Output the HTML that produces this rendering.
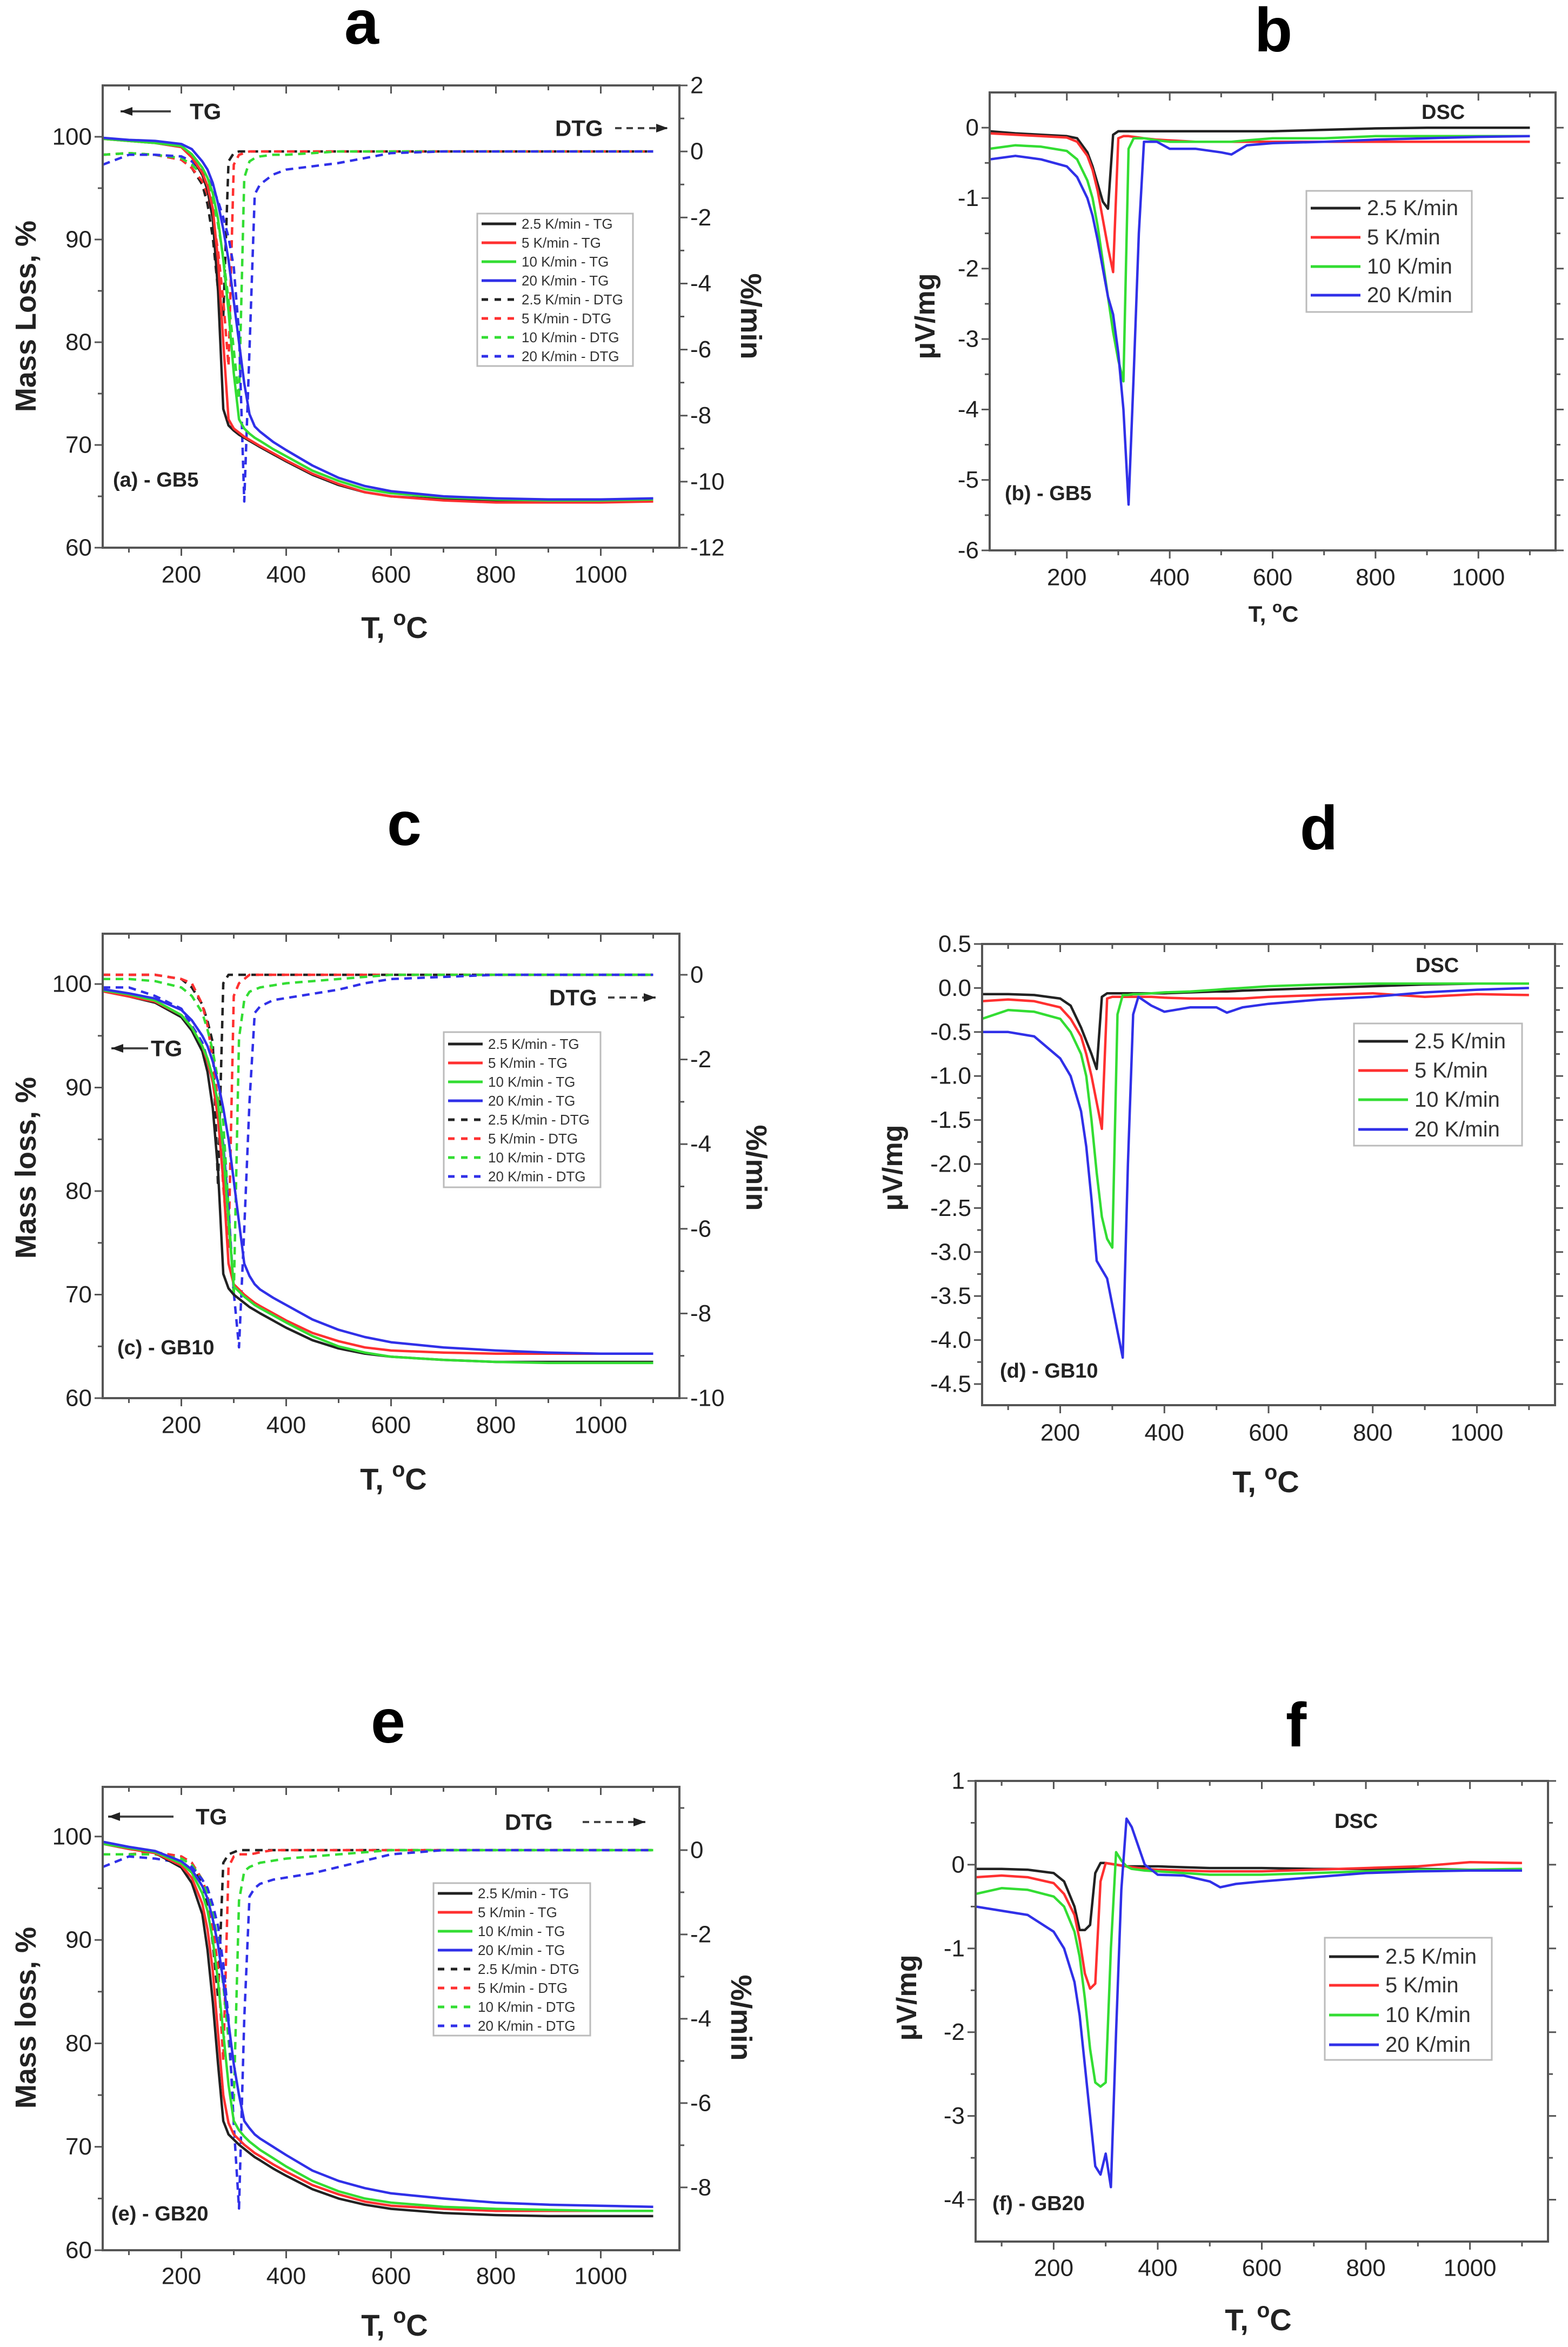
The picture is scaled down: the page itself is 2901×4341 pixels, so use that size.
<!DOCTYPE html>
<html><head><meta charset="utf-8"><style>
html,body{margin:0;padding:0;background:#fff;}
svg{display:block;font-family:"Liberation Sans",Arial,sans-serif;}
</style></head><body>
<svg id="fig" xmlns="http://www.w3.org/2000/svg" width="2901" height="4341" viewBox="0 0 2901 4341">
<rect x="0" y="0" width="2901" height="4341" fill="#fff"/>
</svg>
<script>
// ---- data ----
const tgTemps=[50,100,150,200,220,240,250,260,270,280,290,300,310,320,330,340,350,375,400,450,500,550,600,700,800,900,1000,1100];
const dscTemps=[50,100,150,200,220,240,250,260,270,280,290,300,310,320,330,340,350,375,400,450,500,520,550,600,700,800,900,1000,1100];
const rateLabels=["2.5 K/min","5 K/min","10 K/min","20 K/min"];

const aTG25=[99.8,99.6,99.4,99.0,98.0,96.3,94.8,92.0,85.0,73.5,71.9,71.4,71.0,70.7,70.4,70.1,69.8,69.1,68.4,67.1,66.1,65.4,65.0,64.7,64.5,64.5,64.5,64.6];
const aTG5=[99.8,99.6,99.4,99.0,98.0,96.5,95.2,93.0,88.0,80.0,72.5,71.6,71.2,70.8,70.5,70.2,69.9,69.2,68.5,67.2,66.2,65.4,65.0,64.6,64.4,64.4,64.4,64.5];
const aTG10=[99.8,99.6,99.4,99.1,98.3,97.0,96.0,94.5,92.0,88.0,83.0,77.0,72.5,71.6,71.1,70.7,70.4,69.6,68.9,67.5,66.5,65.7,65.3,64.9,64.7,64.6,64.6,64.7];
const aTG20=[99.9,99.7,99.6,99.3,98.8,97.6,96.8,95.5,93.5,91.0,88.0,84.0,80.0,76.0,73.0,71.8,71.3,70.3,69.5,68.0,66.8,66.0,65.5,65.0,64.8,64.7,64.7,64.8];
const aDTG25=[-0.1,-0.05,-0.1,-0.25,-0.5,-1.0,-1.6,-2.6,-4.2,-5.0,-0.3,-0.05,0,0,0,0,0,0,0,0,0,0,0,0,0,0,0,0];
const aDTG5=[-0.1,-0.05,-0.1,-0.25,-0.5,-0.9,-1.3,-2.0,-3.0,-4.5,-6.5,-0.4,-0.1,-0.05,0,0,0,0,0,0,0,0,0,0,0,0,0,0];
const aDTG10=[-0.1,-0.05,-0.1,-0.2,-0.4,-0.7,-1.0,-1.5,-2.2,-3.2,-4.5,-6.0,-7.5,-0.8,-0.3,-0.2,-0.15,-0.1,-0.1,-0.05,0,0,0,0,0,0,0,0];
const aDTG20=[-0.4,-0.1,-0.1,-0.15,-0.3,-0.6,-0.8,-1.1,-1.5,-2.0,-2.6,-3.5,-5.5,-10.6,-6.0,-1.3,-1.0,-0.7,-0.55,-0.45,-0.35,-0.2,-0.05,0,0,0,0,0];

const bDSC25=[-0.05,-0.08,-0.1,-0.12,-0.15,-0.35,-0.55,-0.8,-1.05,-1.15,-0.1,-0.05,-0.05,-0.05,-0.05,-0.05,-0.05,-0.05,-0.05,-0.05,-0.05,-0.05,-0.05,-0.05,-0.03,-0.01,0,0,0];
const bDSC5=[-0.08,-0.1,-0.12,-0.14,-0.2,-0.4,-0.6,-0.9,-1.3,-1.7,-2.05,-0.15,-0.12,-0.12,-0.13,-0.14,-0.15,-0.17,-0.18,-0.2,-0.2,-0.2,-0.2,-0.2,-0.2,-0.2,-0.2,-0.2,-0.2];
const bDSC10=[-0.3,-0.25,-0.27,-0.33,-0.45,-0.75,-1.0,-1.4,-1.9,-2.4,-2.9,-3.3,-3.6,-0.3,-0.15,-0.15,-0.15,-0.18,-0.2,-0.2,-0.2,-0.2,-0.18,-0.15,-0.15,-0.12,-0.12,-0.12,-0.12];
const bDSC20=[-0.45,-0.4,-0.45,-0.55,-0.7,-1.0,-1.25,-1.6,-2.0,-2.4,-2.65,-3.2,-4.0,-5.35,-3.5,-1.5,-0.2,-0.2,-0.3,-0.3,-0.35,-0.38,-0.25,-0.22,-0.2,-0.17,-0.15,-0.13,-0.12];

const cTG25=[99.3,98.8,98.2,96.8,95.5,93.5,91.5,88.0,82.0,72.0,70.6,70.0,69.6,69.2,68.8,68.5,68.2,67.5,66.8,65.6,64.8,64.3,64.0,63.7,63.5,63.5,63.5,63.5];
const cTG5=[99.3,98.8,98.3,97.0,95.8,94.0,92.5,90.5,87.0,81.0,73.0,71.0,70.5,70.0,69.6,69.2,68.9,68.2,67.5,66.3,65.5,64.9,64.6,64.4,64.3,64.3,64.3,64.3];
const cTG10=[99.4,99.0,98.4,97.0,95.8,94.0,92.8,91.0,88.5,84.0,77.0,70.8,70.3,69.8,69.4,69.0,68.7,68.0,67.3,66.0,65.0,64.4,64.0,63.7,63.5,63.4,63.4,63.4];
const cTG20=[99.5,99.1,98.6,97.5,96.5,95.0,94.0,92.5,90.5,88.0,85.0,81.0,77.0,73.0,71.8,71.0,70.5,69.7,69.0,67.6,66.6,65.9,65.4,64.9,64.6,64.4,64.3,64.3];
const cDTG25=[0,0,0,-0.1,-0.3,-0.7,-1.1,-1.6,-5.0,-0.2,0,0,0,0,0,0,0,0,0,0,0,0,0,0,0,0,0,0];
const cDTG5=[0,0,0,-0.1,-0.2,-0.7,-1.2,-2.0,-3.0,-5.0,-6.5,-0.5,-0.2,-0.1,0,0,0,0,0,0,0,0,0,0,0,0,0,0];
const cDTG10=[-0.1,-0.1,-0.15,-0.3,-0.5,-0.9,-1.3,-1.8,-2.5,-3.5,-5.5,-7.6,-1.5,-0.6,-0.4,-0.35,-0.3,-0.25,-0.2,-0.15,-0.1,-0.05,0,0,0,0,0,0];
const cDTG20=[-0.3,-0.3,-0.5,-0.8,-1.2,-1.6,-2.0,-2.5,-3.2,-4.0,-5.5,-7.5,-8.8,-6.0,-3.0,-0.9,-0.75,-0.6,-0.55,-0.45,-0.35,-0.2,-0.1,-0.05,0,0,0,0];

const dDSC25=[-0.07,-0.07,-0.08,-0.12,-0.2,-0.45,-0.6,-0.75,-0.92,-0.1,-0.06,-0.06,-0.06,-0.06,-0.06,-0.06,-0.06,-0.06,-0.06,-0.05,-0.04,-0.04,-0.03,-0.02,0,0.02,0.04,0.05,0.05];
const dDSC5=[-0.15,-0.13,-0.15,-0.22,-0.35,-0.55,-0.75,-1.0,-1.3,-1.6,-0.12,-0.1,-0.1,-0.1,-0.1,-0.1,-0.1,-0.1,-0.11,-0.12,-0.12,-0.12,-0.12,-0.1,-0.08,-0.06,-0.1,-0.07,-0.08];
const dDSC10=[-0.35,-0.25,-0.27,-0.35,-0.5,-0.75,-1.0,-1.5,-2.1,-2.6,-2.85,-2.95,-0.3,-0.08,-0.08,-0.07,-0.07,-0.06,-0.05,-0.04,-0.02,-0.01,0,0.02,0.04,0.05,0.05,0.05,0.05];
const dDSC20=[-0.5,-0.5,-0.55,-0.8,-1.0,-1.4,-1.8,-2.4,-3.1,-3.2,-3.3,-3.6,-3.9,-4.2,-2.0,-0.3,-0.1,-0.2,-0.27,-0.22,-0.22,-0.28,-0.22,-0.18,-0.13,-0.1,-0.05,-0.02,0];

const eTG25=[99.3,98.8,98.4,97.0,95.5,92.5,89.0,84.0,78.0,72.5,71.2,70.7,70.2,69.8,69.4,69.0,68.7,67.9,67.2,65.9,65.0,64.4,64.0,63.6,63.4,63.3,63.3,63.3];
const eTG5=[99.3,98.8,98.4,97.2,96.0,93.5,91.0,87.0,81.0,75.0,72.3,71.2,70.7,70.2,69.8,69.4,69.1,68.3,67.6,66.3,65.4,64.7,64.3,64.0,63.8,63.8,63.8,63.8];
const eTG10=[99.3,98.9,98.5,97.4,96.5,94.5,92.8,90.0,86.0,81.0,76.0,72.5,71.6,71.0,70.5,70.1,69.7,68.9,68.1,66.7,65.7,65.0,64.6,64.2,64.0,63.9,63.8,63.8];
const eTG20=[99.5,99.0,98.6,97.6,96.8,95.2,94.0,92.0,89.5,86.0,82.0,78.0,75.0,72.5,71.8,71.2,70.8,70.0,69.2,67.7,66.7,66.0,65.5,65.0,64.6,64.4,64.3,64.2];
const eDTG25=[-0.1,-0.1,-0.05,-0.15,-0.3,-0.8,-1.3,-2.2,-3.5,-0.3,-0.1,-0.05,0,0,0,0,0,0,0,0,0,0,0,0,0,0,0,0];
const eDTG5=[-0.1,-0.1,-0.05,-0.15,-0.3,-0.7,-1.1,-1.8,-2.8,-5.0,-0.4,-0.15,-0.1,-0.1,-0.1,-0.08,-0.05,0,0,0,0,0,0,0,0,0,0,0];
const eDTG10=[-0.1,-0.1,-0.1,-0.2,-0.35,-0.7,-1.0,-1.5,-2.2,-3.2,-4.5,-6.0,-1.2,-0.5,-0.4,-0.35,-0.3,-0.25,-0.2,-0.15,-0.1,-0.05,0,0,0,0,0,0];
const eDTG20=[-0.4,-0.15,-0.2,-0.3,-0.4,-0.7,-0.9,-1.3,-1.8,-2.7,-4.0,-6.5,-8.5,-4.0,-1.1,-0.9,-0.8,-0.7,-0.65,-0.55,-0.4,-0.25,-0.1,0,0,0,0,0];

const fDSC25=[-0.05,-0.05,-0.06,-0.1,-0.2,-0.5,-0.78,-0.78,-0.72,-0.1,0.02,0.02,0.01,0,-0.01,-0.02,-0.02,-0.02,-0.02,-0.03,-0.04,-0.04,-0.04,-0.04,-0.05,-0.05,-0.05,-0.06,-0.07];
const fDSC5=[-0.15,-0.13,-0.15,-0.22,-0.35,-0.6,-0.9,-1.3,-1.48,-1.42,-0.2,0.02,0.01,0,-0.01,-0.02,-0.03,-0.05,-0.06,-0.07,-0.08,-0.08,-0.08,-0.08,-0.06,-0.04,-0.02,0.03,0.02];
const fDSC10=[-0.35,-0.28,-0.3,-0.38,-0.5,-0.8,-1.1,-1.6,-2.2,-2.6,-2.65,-2.6,-1.0,0.15,0.05,-0.02,-0.05,-0.07,-0.08,-0.1,-0.12,-0.12,-0.12,-0.12,-0.1,-0.08,-0.06,-0.06,-0.05];
const fDSC20=[-0.5,-0.55,-0.6,-0.8,-1.0,-1.4,-1.8,-2.4,-3.0,-3.6,-3.7,-3.45,-3.85,-2.0,-0.3,0.55,0.45,0.0,-0.12,-0.13,-0.2,-0.27,-0.23,-0.2,-0.15,-0.1,-0.08,-0.07,-0.07];

const xTicks=[200,400,600,800,1000];
const colors=["#222222","#ff3030","#33dd33","#3030e8"];

// ---- drawing ----
const NS="http://www.w3.org/2000/svg";
const svg=document.getElementById('fig');
function mk(tag,attrs,parent){const e=document.createElementNS(NS,tag);for(const k in attrs)e.setAttribute(k,attrs[k]);(parent||svg).appendChild(e);return e;}
function txt(parent,x,y,s,size,opts){opts=opts||{};
  const t=mk('text',{x:x,y:y,'font-size':size,'font-weight':opts.bold?'bold':'normal','text-anchor':opts.anchor||'middle','dominant-baseline':'central',fill:opts.fill||'#222'},parent);
  if(opts.rot)t.setAttribute('transform','rotate('+opts.rot+' '+x+' '+y+')');
  t.textContent=s;return t;}
function tempTitle(parent,x,y,size,name){
  const t=mk('text',{x:x,y:y,'font-size':size,'font-weight':'bold','text-anchor':'middle','dominant-baseline':'central',fill:'#222'},parent);
  
  
  const a=mk('tspan',{},t);a.textContent='T, ';
  const o=mk('tspan',{'font-size':size*0.7,dy:-size*0.3},t);o.textContent='o';
  const c=mk('tspan',{dy:size*0.3},t);c.textContent='C';
}

function panel(cfg){
  const g=mk('g',{});
  
  
  const L=cfg.box[0],T=cfg.box[1],R=cfg.box[2],B=cfg.box[3];
  const sx=v=>L+(v-50)/(1150-50)*(R-L);
  const syL=v=>B-(v-cfg.yL[0])/(cfg.yL[1]-cfg.yL[0])*(B-T);
  const syR=cfg.yR?(v=>B-(v-cfg.yR[0])/(cfg.yR[1]-cfg.yR[0])*(B-T)):null;
  // title letter
  const ttl=txt(g,cfg.title[0],cfg.title[1],cfg.title[2],115,{bold:true,fill:'#000'});
  
  
  // series
  const clipId='clip-'+cfg.name;
  const cp=mk('clipPath',{id:clipId},g);mk('rect',{x:L,y:T,width:R-L,height:B-T},cp);
  const sg=mk('g',{'clip-path':'url(#'+clipId+')'},g);
  cfg.series.forEach(s=>{
    const sy=s.axis==='R'?syR:syL;
    let d='';s.temps.forEach((t,i)=>{d+=(i?'L':'M')+sx(t).toFixed(1)+' '+sy(s.vals[i]).toFixed(1);});
    const p=mk('path',{d:d,fill:'none',stroke:s.color,'stroke-width':4.5,'stroke-linejoin':'round','stroke-dasharray':s.dash?'14 10':'none'},sg);
    
    
  });
  // frame
  const fr=mk('rect',{x:L,y:T,width:R-L,height:B-T,fill:'none',stroke:'#555','stroke-width':4},g);
  
  
  // x ticks
  for(let v=100;v<=1100;v+=100){const maj=v%200===0;const x=sx(v);
    mk('line',{x1:x,y1:B,x2:x,y2:B+(maj?15:9),stroke:'#555','stroke-width':3},g);
    mk('line',{x1:x,y1:T,x2:x,y2:T+(maj?15:9),stroke:'#555','stroke-width':3},g);}
  xTicks.forEach(v=>{const t=txt(g,sx(v),cfg.xLabY,String(v),44);
    
    });
  // left y ticks
  const yt=cfg.yLTicks;
  for(let i=0;i<yt.length;i++){const y=syL(yt[i]);
    mk('line',{x1:L,y1:y,x2:L-15,y2:y,stroke:'#555','stroke-width':3},g);
    if(!syR)mk('line',{x1:R,y1:y,x2:R+15,y2:y,stroke:'#555','stroke-width':3},g);
    if(i<yt.length-1){const ym=syL((yt[i]+yt[i+1])/2);
      mk('line',{x1:L,y1:ym,x2:L-9,y2:ym,stroke:'#555','stroke-width':3},g);
      if(!syR)mk('line',{x1:R,y1:ym,x2:R+9,y2:ym,stroke:'#555','stroke-width':3},g);}
    const t=txt(g,L-20,y,cfg.fmt?yt[i].toFixed(1):String(yt[i]),44,{anchor:'end'});
    
    
  }
  if(syR){const rt=cfg.yRTicks;
    for(let i=0;i<rt.length;i++){const y=syR(rt[i]);
      mk('line',{x1:R,y1:y,x2:R+15,y2:y,stroke:'#555','stroke-width':3},g);
      const ym=syR(rt[i]+1);if(rt[i]+1<cfg.yR[1])mk('line',{x1:R,y1:ym,x2:R+9,y2:ym,stroke:'#555','stroke-width':3},g);
      const t=txt(g,R+20,y,String(rt[i]),44,{anchor:'start'});
      
      }
    const rtl=txt(g,cfg.yRTitle[0],cfg.yRTitle[1],'%/min',54,{bold:true,rot:90});
    
    
  }
  const ytl=txt(g,cfg.yTitle[0],cfg.yTitle[1],cfg.yTitle[2],cfg.yTitle[3],{bold:true,rot:-90});
  
  
  tempTitle(g,cfg.xTitle[0],cfg.xTitle[1],cfg.xTitle[2],'x-axis-title');
  // sample label
  const sl=txt(g,cfg.sample[0],cfg.sample[1],cfg.sample[2],38,{bold:true,anchor:'start'});
  
  
  // legend
  const lg=mk('g',{},g);
  
  
  const Lb=cfg.legend;
  mk('rect',{x:Lb.x0,y:Lb.y0,width:Lb.x1-Lb.x0,height:Lb.y1-Lb.y0,fill:'#fff',stroke:'#bbb','stroke-width':3},lg);
  Lb.items.forEach((it,i)=>{const y=Lb.ys[i];
    mk('line',{x1:Lb.x0+8,y1:y,x2:Lb.lineEnd,y2:y,stroke:it.color,'stroke-width':5,'stroke-dasharray':it.dash?'12 12':'none'},lg);
    const t=txt(lg,Lb.textX,y,it.label,Lb.size,{anchor:'start',fill:'#333'});
    
    });
  (cfg.notes||[]).forEach(n=>{
    const t=txt(g,n.x,n.y,n.s,n.size||42,{bold:true,anchor:'start'});
    
    
    if(n.arrow){const a=n.arrow;
      const ln=mk('line',{x1:a[0],y1:n.y,x2:a[1],y2:n.y,stroke:'#444','stroke-width':4,'stroke-dasharray':a[2]?'12 9':'none'},g);
      
      
      const dir=a[1]>a[0]?1:-1;const hx=a[1];
      mk('polygon',{points:hx+','+n.y+' '+(hx-dir*22)+','+(n.y-8)+' '+(hx-dir*22)+','+(n.y+8),fill:'#222'},g);}
  });
}
function tgSeries(p,tg,dtg){const out=[];
  dtg.forEach((v,i)=>out.push({temps:tgTemps,vals:v,color:colors[i],dash:true,axis:'R',name:'dtg-line-'+['2p5','5','10','20'][i]}));
  tg.forEach((v,i)=>out.push({temps:tgTemps,vals:v,color:colors[i],dash:false,axis:'L',name:'tg-line-'+['2p5','5','10','20'][i]}));
  return out;}
function dscSeries(arrs){return arrs.map((v,i)=>({temps:dscTemps,vals:v,color:colors[i],dash:false,axis:'L',name:'dsc-line-'+['2p5','5','10','20'][i]}));}
function tgLegend(x0,y0,x1,y1,yStart,step){const items=[];
  rateLabels.forEach((l,i)=>items.push({label:l+' - TG',color:colors[i],dash:false}));
  rateLabels.forEach((l,i)=>items.push({label:l+' - DTG',color:colors[i],dash:true}));
  return {x0:x0,y0:y0,x1:x1,y1:y1,items:items,ys:items.map((_,i)=>yStart+i*step),lineEnd:x0+72,textX:x0+82,size:26};}
function dscLegend(x0,y0,x1,y1,ys){return {x0:x0,y0:y0,x1:x1,y1:y1,items:rateLabels.map((l,i)=>({label:l,color:colors[i]})),ys:ys,lineEnd:x0+100,textX:x0+112,size:40};}

panel({name:'panel-a',box:[190,158,1257,1013],yL:[60,105],yR:[-12,2],yLTicks:[60,70,80,90,100],yRTicks:[-12,-10,-8,-6,-4,-2,0,2],
  title:[669,42,'a'],xLabY:1063,yTitle:[48,585,'Mass Loss, %',54],yRTitle:[1389,585],xTitle:[730,1160,56],
  sample:[209,888,'(a) - GB5'],series:tgSeries('a',[aTG25,aTG5,aTG10,aTG20],[aDTG25,aDTG5,aDTG10,aDTG20]),
  legend:tgLegend(883,395,1171,677,414,35),
  notes:[{x:351,y:206,s:'TG',name:'tg-annotation',arrow:[316,223,false]},{x:1027,y:237,s:'DTG',name:'dtg-annotation',arrow:[1138,1236,true]}]});

panel({name:'panel-b',box:[1831,171,2878,1018],yL:[-6,0.5],yLTicks:[-6,-5,-4,-3,-2,-1,0],
  title:[2356,56,'b'],xLabY:1068,yTitle:[1712,585,'\u03bcV/mg',52],xTitle:[2356,1135,42],
  sample:[1859,913,'(b) - GB5'],series:dscSeries([bDSC25,bDSC5,bDSC10,bDSC20]),
  legend:dscLegend(2417,353,2723,577,[385,439,493,546]),
  notes:[{x:2630,y:208,s:'DSC',name:'dsc-annotation',size:38}]});

panel({name:'panel-c',box:[190,1727,1257,2586],yL:[60,104.86],yR:[-10,0.97],yLTicks:[60,70,80,90,100],yRTicks:[-10,-8,-6,-4,-2,0],
  title:[748,1524,'c'],xLabY:2636,yTitle:[48,2160,'Mass loss, %',54],yRTitle:[1399,2160],xTitle:[728,2735,56],
  sample:[217,2493,'(c) - GB10'],series:tgSeries('c',[cTG25,cTG5,cTG10,cTG20],[cDTG25,cDTG5,cDTG10,cDTG20]),
  legend:tgLegend(821,1909,1111,2196,1931,35),
  notes:[{x:279,y:1939,s:'TG',name:'tg-annotation',arrow:[274,206,false]},{x:1016,y:1845,s:'DTG',name:'dtg-annotation',arrow:[1125,1213,true]}]});

panel({name:'panel-d',box:[1817,1746,2877,2599],yL:[-4.74,0.5],yLTicks:[-4.5,-4,-3.5,-3,-2.5,-2,-1.5,-1,-0.5,0,0.5],fmt:true,
  title:[2440,1532,'d'],xLabY:2650,yTitle:[1652,2160,'\u03bcV/mg',52],xTitle:[2342,2740,56],
  sample:[1850,2536,'(d) - GB10'],series:dscSeries([dDSC25,dDSC5,dDSC10,dDSC20]),
  legend:dscLegend(2505,1893,2816,2119,[1926,1980,2034,2089]),
  notes:[{x:2619,y:1786,s:'DSC',name:'dsc-annotation',size:38}]});

panel({name:'panel-e',box:[190,3305,1257,4162],yL:[60,104.8],yR:[-9.49,1.5],yLTicks:[60,70,80,90,100],yRTicks:[-8,-6,-4,-2,0],
  title:[718,3184,'e'],xLabY:4210,yTitle:[48,3732,'Mass loss, %',54],yRTitle:[1371,3732],xTitle:[730,4300,56],
  sample:[206,4095,'(e) - GB20'],series:tgSeries('e',[eTG25,eTG5,eTG10,eTG20],[eDTG25,eDTG5,eDTG10,eDTG20]),
  legend:tgLegend(802,3483,1092,3765,3502,35),
  notes:[{x:362,y:3360,s:'TG',name:'tg-annotation',arrow:[321,200,false]},{x:934,y:3370,s:'DTG',name:'dtg-annotation',arrow:[1078,1194,true]}]});

panel({name:'panel-f',box:[1805,3294,2864,4146],yL:[-4.5,1],yLTicks:[-4,-3,-2,-1,0,1],
  title:[2398,3191,'f'],xLabY:4195,yTitle:[1678,3695,'\u03bcV/mg',52],xTitle:[2328,4290,56],
  sample:[1836,4076,'(f) - GB20'],series:dscSeries([fDSC25,fDSC5,fDSC10,fDSC20]),
  legend:dscLegend(2451,3584,2760,3810,[3619,3672,3727,3782]),
  notes:[{x:2469,y:3369,s:'DSC',name:'dsc-annotation',size:38}]});
</script>
</body></html>
